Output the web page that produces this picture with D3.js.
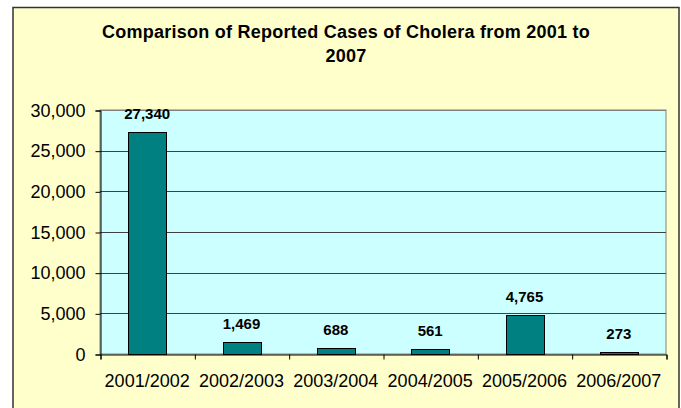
<!DOCTYPE html>
<html>
<head>
<meta charset="utf-8">
<script src="https://cdn.jsdelivr.net/npm/d3@7"></script>
<style>
  body { margin: 0; background: #ffffff; }
  svg text { font-family: "Liberation Sans", Arial, sans-serif; }
</style>
</head>
<body>
<div id="chart"></div>
<script>
// Chart data
var seasons = ["2001/2002", "2002/2003", "2003/2004", "2004/2005", "2005/2006", "2006/2007"];
var cases = [27340, 1469, 688, 561, 4765, 273];
var yTicks = [0, 5000, 10000, 15000, 20000, 25000, 30000];
var titleLines = ["Comparison of Reported Cases of Cholera from 2001 to", "2007"];

var svgWidth = 681;
var svgHeight = 408;

// plot area inside the chart box
var plot = { left: 100, top: 110, right: 666, bottom: 354 };

var svg = d3.select("#chart")
  .append("svg")
  .attr("width", svgWidth)
  .attr("height", svgHeight);

// chart box
svg.append("rect")
  .attr("x", 13)
  .attr("y", 7.5)
  .attr("width", 666)
  .attr("height", 420)
  .attr("fill", "#FFFFCC")
  .attr("stroke", "#333")
  .attr("stroke-width", 1.5);

// title
svg.append("text")
  .attr("text-anchor", "middle")
  .attr("font-size", "18px")
  .attr("font-weight", "bold")
  .attr("letter-spacing", "0.25px")
  .attr("fill", "#000")
  .selectAll("tspan")
  .data(titleLines)
  .enter()
  .append("tspan")
  .attr("x", 346)
  .attr("y", (d, i) => 38 + i * 24)
  .text(d => d);

// scales
var xScale = d3.scaleBand()
  .domain(seasons)
  .range([plot.left, plot.right])
  .paddingInner(0.6)
  .paddingOuter(0.3);

var yScale = d3.scaleLinear()
  .domain([0, 30000])
  .range([plot.bottom, plot.top]);

// plot background
svg.append("rect")
  .attr("x", plot.left)
  .attr("y", plot.top)
  .attr("width", plot.right - plot.left)
  .attr("height", plot.bottom - plot.top)
  .attr("fill", "#CCFFFF")
  .attr("stroke", "#808080")
  .attr("stroke-width", 1);

// gridlines
svg.append("g")
  .selectAll("line")
  .data(yTicks.filter(d => d > 0))
  .enter()
  .append("line")
  .attr("x1", plot.left)
  .attr("x2", plot.right)
  .attr("y1", d => Math.round(yScale(d)) + 0.5)
  .attr("y2", d => Math.round(yScale(d)) + 0.5)
  .attr("stroke", d => d === 30000 ? "#808080" : "#404040")
  .attr("stroke-width", 1);

// y axis
var leftAxis = d3.axisLeft(yScale)
  .tickValues(yTicks)
  .tickSize(5)
  .tickPadding(10)
  .tickFormat(d3.format(","));

var yAxis = svg.append("g")
  .attr("transform", `translate(${plot.left + 0.5}, 0.5)`)
  .call(leftAxis);

yAxis.selectAll("text")
  .attr("font-size", "18px")
  .attr("fill", "#000")
  .attr("font-family", "Liberation Sans, Arial, sans-serif");
yAxis.selectAll("line, path").attr("stroke", "#000");

// x axis: boundary ticks between categories
var edgeScale = d3.scaleLinear()
  .domain([0, seasons.length])
  .range([plot.left, plot.right]);

var edgeAxis = d3.axisBottom(edgeScale)
  .tickValues(d3.range(seasons.length + 1))
  .tickSize(5)
  .tickFormat("");

var xAxis = svg.append("g")
  .attr("transform", `translate(0.5, ${plot.bottom + 0.5})`)
  .call(edgeAxis);
xAxis.selectAll("line, path").attr("stroke", "#000");

// x labels
svg.append("g")
  .selectAll("text")
  .data(seasons)
  .enter()
  .append("text")
  .attr("x", d => xScale(d) + xScale.bandwidth() / 2)
  .attr("y", 387)
  .attr("text-anchor", "middle")
  .attr("font-size", "18px")
  .attr("fill", "#000")
  .text(d => d);

// bars
svg.append("g")
  .selectAll("rect")
  .data(cases)
  .enter()
  .append("rect")
  .attr("x", (d, i) => Math.round(xScale(seasons[i])) + 0.5)
  .attr("y", d => Math.round(yScale(d)) + 0.5)
  .attr("width", Math.round(xScale.bandwidth()))
  .attr("height", d => plot.bottom - Math.round(yScale(d)))
  .attr("fill", "#008080")
  .attr("stroke", "#000")
  .attr("stroke-width", 1);

// value labels
svg.append("g")
  .selectAll("text")
  .data(cases)
  .enter()
  .append("text")
  .attr("x", (d, i) => xScale(seasons[i]) + xScale.bandwidth() / 2)
  .attr("y", d => yScale(d) - 13)
  .attr("text-anchor", "middle")
  .attr("font-size", "15px")
  .attr("font-weight", "bold")
  .attr("fill", "#000")
  .text(d => d3.format(",")(d));
</script>
</body>
</html>
